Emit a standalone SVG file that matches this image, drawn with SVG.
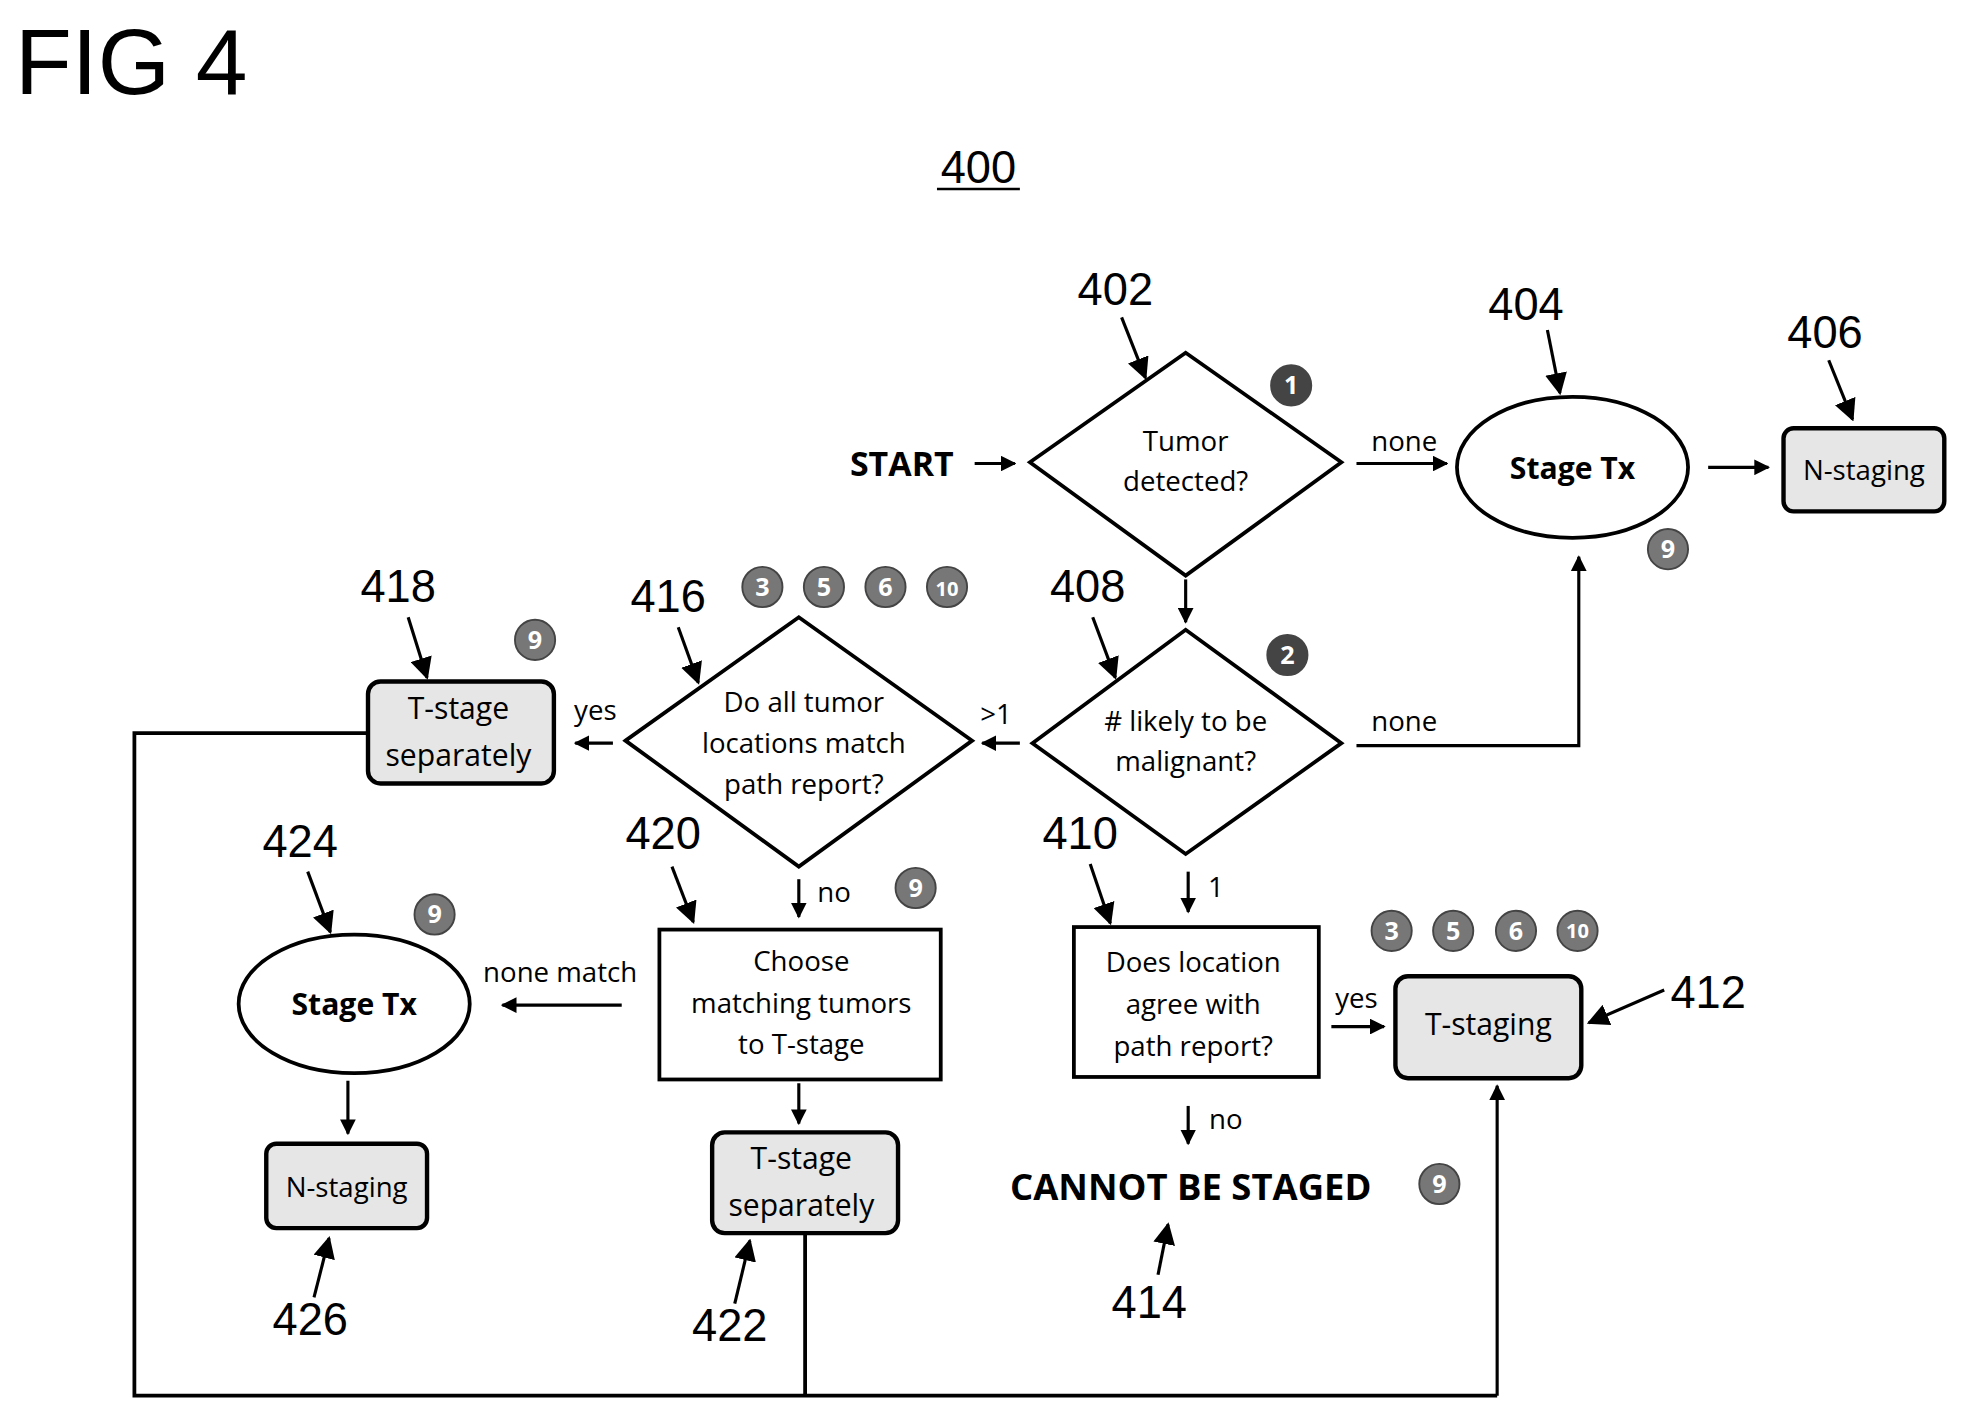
<svg xmlns="http://www.w3.org/2000/svg" width="1969" height="1417" viewBox="0 0 1969 1417">
<defs>
<marker id="ah" viewBox="0 0 10 10" refX="9" refY="5" markerWidth="5" markerHeight="5" orient="auto"><path d="M0,0L10,5L0,10z" fill="#000"/></marker>
<marker id="al" viewBox="0 0 10 10" refX="9" refY="5" markerWidth="7" markerHeight="7" orient="auto"><path d="M0,0L10,5L0,10z" fill="#000"/></marker>
</defs>
<style>
text{font-family:"Open Sans","Liberation Sans",sans-serif;text-anchor:middle;fill:#000}
.n{font-family:"Liberation Sans",Arial,sans-serif;font-size:36px}
.t{font-size:22px}
.b{font-weight:bold;font-size:24px}
.s{fill:none;stroke:#000;stroke-width:3}
.sh{fill:#e6e6e6;stroke:#000;stroke-width:3.5}
.c{stroke:#000;stroke-width:3;fill:none}
.ca{stroke:#000;stroke-width:2.5;fill:none;marker-end:url(#ah)}
.la{stroke:#000;stroke-width:2.5;fill:none;marker-end:url(#al)}
.bd circle{fill:#777;stroke:#444;stroke-width:1.5}
.bd text{fill:#fff;font-size:20px;font-weight:bold}
.dk circle{fill:#444}
</style>
<rect width="1969" height="1417" fill="#fff"/>
<g transform="scale(1.256,1.2596)">
<text x="12" y="75" style="text-anchor:start;font-family:'Liberation Sans',Arial,sans-serif;font-size:74px">FIG 4</text>
<text class="n" x="779" y="145">400</text>
<line x1="746" y1="150" x2="812" y2="150" stroke="#000" stroke-width="2"/>

<g id="connectors">
<line class="ca" x1="776" y1="368" x2="808" y2="368"/>
<line class="ca" x1="1080" y1="368" x2="1152" y2="368"/>
<text class="t" x="1118" y="358">none</text>
<line class="ca" x1="1360" y1="371" x2="1408" y2="371"/>
<line class="ca" x1="944" y1="460" x2="944" y2="494"/>
<polyline class="ca" points="1080,592 1257,592 1257,442"/>
<text class="t" x="1118" y="580">none</text>
<line class="ca" x1="812" y1="590" x2="782" y2="590"/>
<text class="t" x="793" y="575">&gt;1</text>
<line class="ca" x1="488" y1="590" x2="458" y2="590"/>
<text class="t" x="474" y="572">yes</text>
<polyline class="c" points="293,582 107,582 107,1108 1192,1108"/>
<line class="ca" x1="1192" y1="1108" x2="1192" y2="862"/>
<line class="c" x1="641" y1="979" x2="641" y2="1108"/>
<line class="ca" x1="636" y1="698" x2="636" y2="728"/>
<text class="t" x="664" y="716">no</text>
<line class="ca" x1="495" y1="798" x2="400" y2="798"/>
<text class="t" x="446" y="780">none match</text>
<line class="ca" x1="277" y1="858" x2="277" y2="900"/>
<line class="ca" x1="636" y1="860" x2="636" y2="892"/>
<line class="ca" x1="946" y1="692" x2="946" y2="724"/>
<text class="t" x="968" y="712">1</text>
<line class="ca" x1="1060" y1="815" x2="1102" y2="815"/>
<text class="t" x="1080" y="800">yes</text>
<line class="ca" x1="946" y1="878" x2="946" y2="908"/>
<text class="t" x="976" y="896">no</text>
</g>

<g id="start"><text class="b" x="718" y="378" style="font-size:27px">START</text></g>

<g id="n402">
<text class="n" x="888" y="242">402</text>
<line class="la" x1="893" y1="252" x2="912" y2="300"/>
<polygon class="s" points="820,367 944,280 1068,367 944,457"/>
<text class="t" x="944" y="358">Tumor</text>
<text class="t" x="944" y="390">detected?</text>
<g class="bd dk"><circle cx="1028" cy="306" r="16"/><text x="1028" y="313">1</text></g>
</g>

<g id="n404">
<text class="n" x="1215" y="254">404</text>
<line class="la" x1="1232" y1="262" x2="1242" y2="312"/>
<ellipse class="s" cx="1252" cy="371" rx="92" ry="56"/>
<text class="b" x="1252" y="380">Stage Tx</text>
<g class="bd"><circle cx="1328" cy="436" r="16"/><text x="1328" y="443">9</text></g>
</g>

<g id="n406">
<text class="n" x="1453" y="276">406</text>
<line class="la" x1="1456" y1="286" x2="1475" y2="333"/>
<rect class="sh" x="1420" y="340" width="128" height="66" rx="8"/>
<text class="t" x="1484" y="381">N-staging</text>
</g>

<g id="n408">
<text class="n" x="866" y="478">408</text>
<line class="la" x1="870" y1="490" x2="888" y2="538"/>
<polygon class="s" points="822,590 944,500 1068,590 944,678"/>
<text class="t" x="944" y="580">#  likely to be</text>
<text class="t" x="944" y="612">malignant?</text>
<g class="bd dk"><circle cx="1025" cy="520" r="16"/><text x="1025" y="527">2</text></g>
</g>

<g id="n416">
<text class="n" x="532" y="486">416</text>
<line class="la" x1="540" y1="498" x2="556" y2="542"/>
<polygon class="s" points="498,588 636,490 774,588 636,688"/>
<text class="t" x="640" y="565">Do all tumor</text>
<text class="t" x="640" y="598">locations match</text>
<text class="t" x="640" y="630">path report?</text>
<g class="bd"><circle cx="607" cy="466" r="16"/><text x="607" y="473">3</text></g>
<g class="bd"><circle cx="656" cy="466" r="16"/><text x="656" y="473">5</text></g>
<g class="bd"><circle cx="705" cy="466" r="16"/><text x="705" y="473">6</text></g>
<g class="bd"><circle cx="754" cy="466" r="16"/><text x="754" y="473" style="font-size:16px">10</text></g>
</g>

<g id="n418">
<text class="n" x="317" y="478">418</text>
<line class="la" x1="325" y1="490" x2="340" y2="538"/>
<rect class="sh" x="293" y="541" width="148" height="81" rx="10"/>
<text class="t" x="365" y="571" style="font-size:24px">T-stage</text>
<text class="t" x="365" y="608" style="font-size:24px">separately</text>
<g class="bd"><circle cx="426" cy="508" r="16"/><text x="426" y="515">9</text></g>
</g>

<g id="n420">
<text class="n" x="528" y="674">420</text>
<line class="la" x1="535" y1="688" x2="552" y2="732"/>
<rect class="s" x="525" y="738" width="224" height="119"/>
<text class="t" x="638" y="771">Choose</text>
<text class="t" x="638" y="804">matching tumors</text>
<text class="t" x="638" y="837">to T-stage</text>
<g class="bd"><circle cx="729" cy="705" r="16"/><text x="729" y="712">9</text></g>
</g>

<g id="n424">
<text class="n" x="239" y="680">424</text>
<line class="la" x1="245" y1="692" x2="263" y2="740"/>
<ellipse class="s" cx="282" cy="797" rx="92" ry="55"/>
<text class="b" x="282" y="806">Stage Tx</text>
<g class="bd"><circle cx="346" cy="726" r="16"/><text x="346" y="733">9</text></g>
</g>

<g id="n426">
<rect class="sh" x="212" y="908" width="128" height="67" rx="8"/>
<text class="t" x="276" y="950">N-staging</text>
<line class="la" x1="250" y1="1030" x2="262" y2="983"/>
<text class="n" x="247" y="1060">426</text>
</g>

<g id="n422">
<rect class="sh" x="567" y="899" width="148" height="80" rx="10"/>
<text class="t" x="638" y="928" style="font-size:24px">T-stage</text>
<text class="t" x="638" y="965" style="font-size:24px">separately</text>
<line class="la" x1="585" y1="1035" x2="597" y2="985"/>
<text class="n" x="581" y="1065">422</text>
</g>

<g id="n410">
<text class="n" x="860" y="674">410</text>
<line class="la" x1="868" y1="686" x2="884" y2="733"/>
<rect class="s" x="855" y="736" width="195" height="119"/>
<text class="t" x="950" y="772">Does location</text>
<text class="t" x="950" y="805">agree with</text>
<text class="t" x="950" y="838">path report?</text>
</g>

<g id="n412">
<rect class="sh" x="1111" y="775" width="148" height="81" rx="10"/>
<text class="t" x="1185" y="822" style="font-size:24px">T-staging</text>
<g class="bd"><circle cx="1108" cy="739" r="16"/><text x="1108" y="746">3</text></g>
<g class="bd"><circle cx="1157" cy="739" r="16"/><text x="1157" y="746">5</text></g>
<g class="bd"><circle cx="1207" cy="739" r="16"/><text x="1207" y="746">6</text></g>
<g class="bd"><circle cx="1256" cy="739" r="16"/><text x="1256" y="745" style="font-size:16px">10</text></g>
<line class="la" x1="1325" y1="786" x2="1265" y2="812"/>
<text class="n" x="1360" y="800">412</text>
</g>

<g id="n414">
<text class="b" x="948" y="953" style="font-size:29px">CANNOT BE STAGED</text>
<g class="bd"><circle cx="1146" cy="940" r="16"/><text x="1146" y="947">9</text></g>
<line class="la" x1="922" y1="1012" x2="930" y2="972"/>
<text class="n" x="915" y="1046">414</text>
</g>
</g>
</svg>
